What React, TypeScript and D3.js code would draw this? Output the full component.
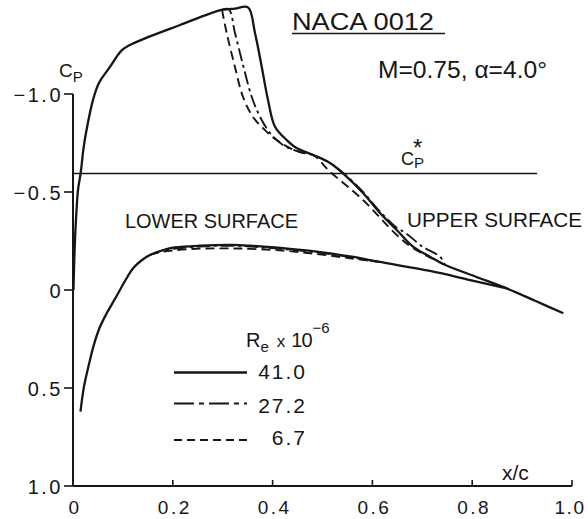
import React from "react";
import * as d3 from "d3";

// ---- data (x/c, Cp) ----
const upper41: [number, number][] = [
  [0.001, 0.0], [0.004, -0.255], [0.01, -0.51], [0.0154, -0.597], [0.0206, -0.714],
  [0.026, -0.801], [0.04, -0.969], [0.052, -1.056], [0.0741, -1.138], [0.0982, -1.224],
  [0.1242, -1.262], [0.2144, -1.352], [0.298, -1.429], [0.3246, -1.436], [0.3507, -1.442],
  [0.3647, -1.311], [0.3782, -1.139], [0.3908, -0.969], [0.4048, -0.833], [0.4283, -0.765],
  [0.4483, -0.724], [0.481, -0.689], [0.515, -0.648], [0.5411, -0.595], [0.5812, -0.495],
  [0.6152, -0.393], [0.6487, -0.306], [0.6814, -0.221], [0.7154, -0.17], [0.7415, -0.133],
  [0.805, -0.07], [0.8691, -0.008], [0.926, 0.055], [0.9826, 0.119],
];
const lower41: [number, number][] = [
  [0.015, 0.621], [0.022, 0.493], [0.0331, 0.367], [0.0411, 0.286], [0.0531, 0.194],
  [0.0675, 0.119], [0.0862, 0.036], [0.1042, -0.046], [0.1208, -0.112], [0.1383, -0.153],
  [0.1543, -0.179], [0.181, -0.204], [0.204, -0.217], [0.2545, -0.226], [0.3206, -0.23],
  [0.3547, -0.226], [0.4208, -0.213], [0.4884, -0.196], [0.5551, -0.171], [0.6152, -0.143],
  [0.7154, -0.097], [0.7956, -0.051], [0.8691, -0.008],
];
const upper27: [number, number][] = [
  [0.298, -1.429], [0.312, -1.433], [0.3246, -1.311], [0.3407, -1.148], [0.3581, -0.986],
  [0.3747, -0.884], [0.3948, -0.801], [0.4208, -0.74], [0.4549, -0.704], [0.481, -0.689],
  [0.515, -0.648], [0.5411, -0.598], [0.5812, -0.5], [0.6152, -0.4], [0.6487, -0.318],
  [0.667, -0.29], [0.7, -0.222], [0.7355, -0.17], [0.745, -0.133],
];
const lower27: [number, number][] = [
  [0.1543, -0.179], [0.181, -0.202], [0.2545, -0.222], [0.3206, -0.226], [0.3547, -0.222],
  [0.4208, -0.209], [0.4884, -0.192], [0.5551, -0.168], [0.6152, -0.143],
];
const upper67: [number, number][] = [
  [0.2986, -1.429], [0.308, -1.311], [0.3246, -1.138], [0.3407, -0.985], [0.3607, -0.883],
  [0.3848, -0.816], [0.4082, -0.765], [0.4349, -0.724], [0.4549, -0.704], [0.481, -0.689],
  [0.515, -0.604], [0.5812, -0.459], [0.6487, -0.281], [0.6814, -0.214], [0.7415, -0.133],
];
const lower67: [number, number][] = [
  [0.1543, -0.179], [0.181, -0.196], [0.2545, -0.211], [0.3206, -0.212], [0.3547, -0.21],
  [0.4208, -0.201], [0.4884, -0.184], [0.5551, -0.162], [0.6152, -0.143],
];
const cpStar = -0.595;
const cpStarEnd = 0.93;
const xTicks = [0, 0.2, 0.4, 0.6, 0.8, 1.0];
const xTickLabels = ["0", "0.2", "0.4", "0.6", "0.8", "1.0"];
const yTicks = [-1.0, -0.5, 0, 0.5, 1.0];
const yTickLabels = ["\u22121.0", "\u22120.5", "0", "0.5", "1.0"];
const reynolds = ["41.0", "27.2", "6.7"];

const FONT = "'Liberation Sans', Arial, sans-serif";
const INK = "#161616";

export default function App() {
  const x = d3.scaleLinear().domain([0, 1]).range([73, 572]);
  const y = d3.scaleLinear().domain([-1, 1]).range([94, 486]);
  const line = d3
    .line<[number, number]>()
    .x((d) => x(d[0]))
    .y((d) => y(d[1]))
    .curve(d3.curveCatmullRom.alpha(0.5));

  const solid = { stroke: INK, strokeWidth: 2.3, fill: "none" };
  const dashDot = { stroke: INK, strokeWidth: 1.9, fill: "none", strokeDasharray: "13,4,3,4" };
  const dashed = { stroke: INK, strokeWidth: 1.9, fill: "none", strokeDasharray: "9,5" };

  const legendStyles = [solid, { ...dashDot, strokeDasharray: "20,5,5,5" }, { ...dashed, strokeDasharray: "8,5" }];
  const legendY = [372.5, 403.5, 440];
  const legendBase = [379, 413, 445];

  return (
    <svg
      width={588}
      height={519}
      style={{ position: "absolute", left: 0, top: 0, background: "#fff" }}
      fontFamily={FONT}
      fill={INK}
    >
      <rect width={588} height={519} fill="#fff" />
      {/* axes */}
      <line x1={x(0)} x2={x(0)} y1={y(-1)} y2={y(1)} stroke={INK} strokeWidth={2} />
      <line x1={x(0)} x2={x(1)} y1={y(1)} y2={y(1)} stroke={INK} strokeWidth={2} />
      {yTicks.map((t, i) => (
        <g key={"y" + i}>
          <line x1={x(0) - 9} x2={x(0)} y1={y(t)} y2={y(t)} stroke={INK} strokeWidth={1.6} />
          <text x={x(0) - 10} y={y(t) + 7.5} fontSize={20} textAnchor="end" letterSpacing={2.5}>
            {yTickLabels[i]}
          </text>
        </g>
      ))}
      {xTicks.map((t, i) => (
        <g key={"x" + i}>
          {i > 0 && <line x1={x(t)} x2={x(t)} y1={y(1)} y2={y(1) - 6} stroke={INK} strokeWidth={1.6} />}
          <text
            x={x(t) + (i === xTicks.length - 1 ? -2 : 2)}
            y={514}
            fontSize={19}
            textAnchor="middle"
            letterSpacing={i === xTicks.length - 1 ? 1.5 : 2.5}
          >
            {xTickLabels[i]}
          </text>
        </g>
      ))}
      {/* Cp axis label */}
      <text x={59} y={77} fontSize={19}>
        C<tspan fontSize={15} dy={5}>P</tspan>
      </text>
      {/* critical Cp line */}
      <line x1={x(0)} x2={x(cpStarEnd)} y1={y(cpStar)} y2={y(cpStar)} stroke={INK} strokeWidth={1.5} />
      <text x={401} y={165} fontSize={18}>
        C<tspan fontSize={15} dy={3}>P</tspan>
        <tspan fontSize={24} dx={-11} dy={-12}>*</tspan>
      </text>

      {/* curves */}
      <path d={line(upper41) || ""} {...solid} />
      <path d={line(lower41) || ""} {...solid} />
      <path d={line(upper27) || ""} {...dashDot} />
      <path d={line(lower27) || ""} {...dashDot} />
      <path d={line(upper67) || ""} {...dashed} />
      <path d={line(lower67) || ""} {...dashed} />

      {/* titles */}
      <text x={292} y={30} fontSize={23} textLength={142} lengthAdjust="spacingAndGlyphs">NACA 0012</text>
      <line x1={292} x2={445} y1={33.5} y2={33.5} stroke={INK} strokeWidth={1.5} />
      <text x={378} y={78} fontSize={23} textLength={169} lengthAdjust="spacingAndGlyphs">M=0.75, α=4.0°</text>
      <text x={125} y={228} fontSize={21} textLength={173} lengthAdjust="spacingAndGlyphs">LOWER SURFACE</text>
      <text x={407} y={227} fontSize={21} textLength={175} lengthAdjust="spacingAndGlyphs">UPPER SURFACE</text>
      <text x={502} y={480} fontSize={21}>x/c</text>

      {/* legend */}
      <text x={246} y={347} fontSize={20}>
        R<tspan fontSize={15} dy={5}>e</tspan>
        <tspan fontSize={17} dx={8} dy={-5}>x</tspan>
        <tspan dx={6} letterSpacing={-1}>10</tspan>
        <tspan fontSize={15} dx={1} dy={-14}>{"\u22126"}</tspan>
      </text>
      {reynolds.map((r, i) => (
        <g key={r}>
          <line x1={174} x2={247} y1={legendY[i]} y2={legendY[i]} {...legendStyles[i]} />
          <text x={307} y={legendBase[i]} fontSize={21} textAnchor="end" letterSpacing={2}>
            {r}
          </text>
        </g>
      ))}
    </svg>
  );
}
